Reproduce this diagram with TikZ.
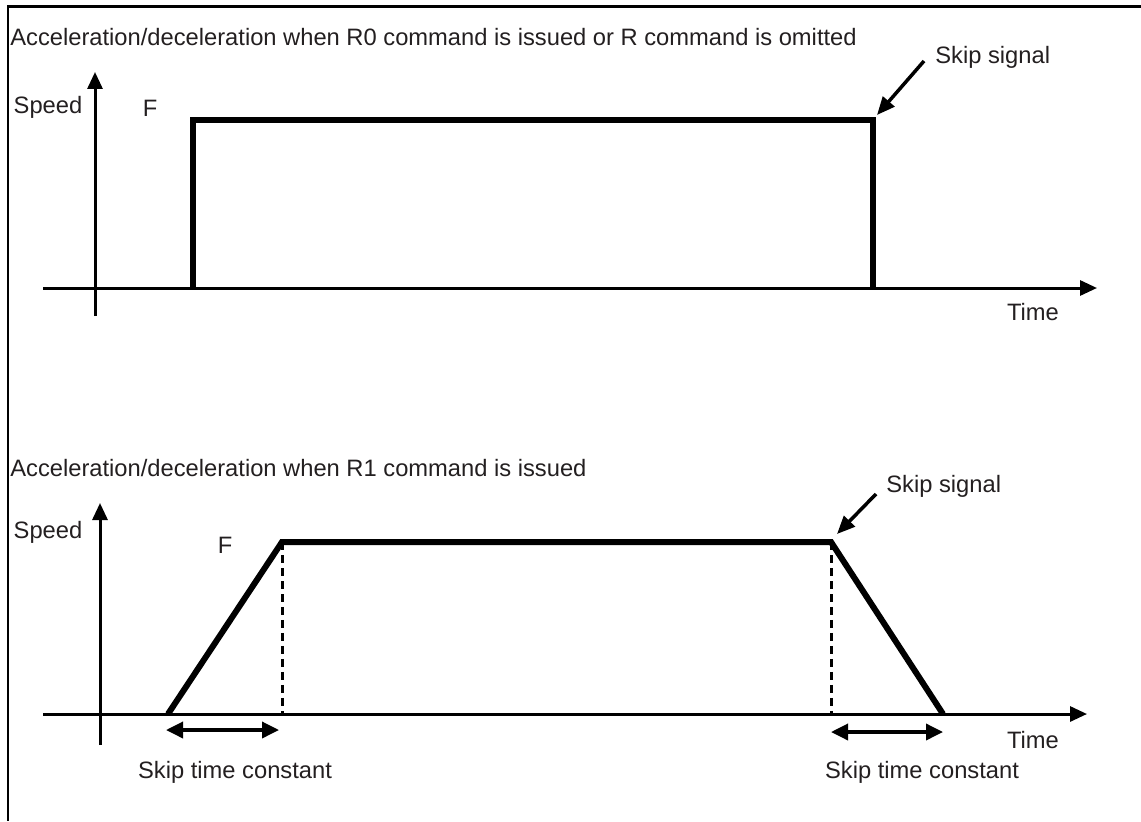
\documentclass[tikz,border=0pt]{standalone}
\usepackage{fontspec}
\setmainfont{Liberation Sans}
\usetikzlibrary{arrows.meta}

\definecolor{txt}{HTML}{231F20}

\begin{document}
\begin{tikzpicture}[x=0.02cm, y=-0.02cm,
  lbl/.style={inner sep=0pt, text=txt, font=\fontsize{13.5}{16}\selectfont},
  axis/.style={line width=0.06cm, -{Triangle[length=0.34cm, width=0.3cm]}},
  speedline/.style={line width=0.12cm, line join=miter},
  guide/.style={line width=0.06cm, dash pattern=on 0.16cm off 0.1cm},
  pointer/.style={line width=0.07cm, -{Triangle[length=0.36cm, width=0.3cm]}},
  span/.style={line width=0.07cm, {Triangle[length=0.34cm, width=0.32cm]}-{Triangle[length=0.34cm, width=0.32cm]}}]

\useasboundingbox (0,0) rectangle (1141,821);

% frame
\draw[line width=0.06cm] (1141,7) -- (8,7) -- (8,821);

% R0 / no R command
\node[lbl, anchor=west] (titleA) at (10,37) {Acceleration/deceleration when R0 command is issued or R command is omitted};

\coordinate (oA) at (95,288);
\draw[axis] (95,316) -- (95,72);
\draw[axis] (43,288) -- (1097,288);

\coordinate (upA) at (193,120);
\coordinate (skipA) at (873,120);
\draw[speedline] (193,288) -- (upA) -- (skipA) -- (873,288);

\node[lbl] (speedA) at (48,107) {Speed};
\node[lbl] (fA) at (150,108) {F};
\node[lbl] (timeA) at (1033,312) {Time};
\node[lbl, anchor=west] (sigA) at (935,57) {Skip signal};
\draw[pointer] ([xshift=-0.22cm, yshift=-0.08cm]sigA.west) -- ([xshift=0.08cm, yshift=0.1cm]skipA);

% R1
\node[lbl, anchor=west] (titleB) at (10,468) {Acceleration/deceleration when R1 command is issued};

\draw[axis] (100,745) -- (100,503);
\draw[axis] (43,714) -- (1087,714);

\coordinate (startB) at (168,714);
\coordinate (upB) at (282,542);
\coordinate (skipB) at (831,542);
\coordinate (stopB) at (943,714);
\draw[speedline] (startB) -- (upB) -- (skipB) -- (stopB);
\draw[guide] (upB) -- (282,714);
\draw[guide] (skipB) -- (831,714);

\draw[span] (166,730) -- (279,730);
\draw[span] (831,732) -- (943,732);

\node[lbl] (speedB) at (48,532) {Speed};
\node[lbl] (fB) at (225,545) {F};
\node[lbl] (timeB) at (1033,740) {Time};
\node[lbl, anchor=west] (sigB) at (886,486) {Skip signal};
\draw[pointer] ([xshift=-0.2cm, yshift=-0.16cm]sigB.west) -- ([xshift=0.12cm, yshift=0.16cm]skipB);
\node[lbl] (constL) at (235,772) {Skip time constant};
\node[lbl] (constR) at (922,772) {Skip time constant};

\end{tikzpicture}
\end{document}
